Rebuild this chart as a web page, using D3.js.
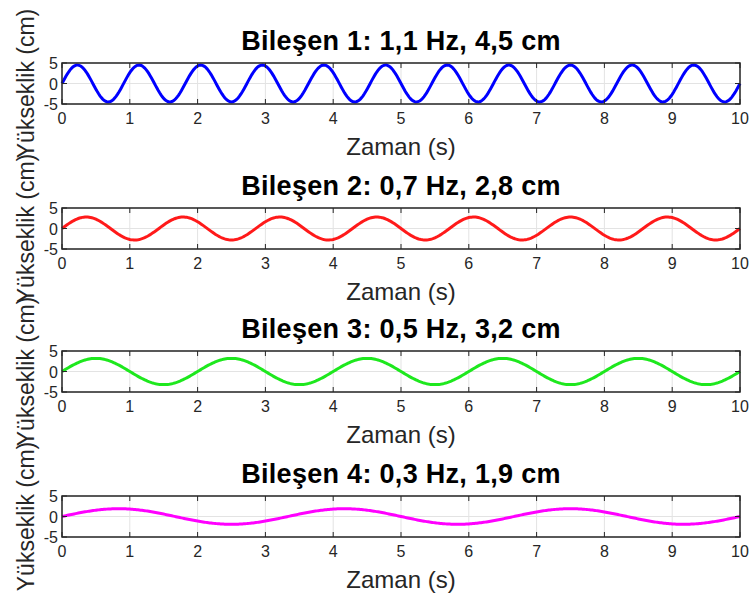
<!DOCTYPE html>
<html>
<head>
<meta charset="utf-8">
<script src="https://cdn.jsdelivr.net/npm/d3@7"></script>
<style>
  body { margin: 0; background: #fff; }
  text { font-family: "Liberation Sans", Arial, sans-serif; }
</style>
</head>
<body>
<div id="canvas"></div>
<script>
"use strict"

/* Data: the four components (frequency in Hz, amplitude in cm) */
let components = ["Bileşen 1", "Bileşen 2", "Bileşen 3", "Bileşen 4"];
let frequencies = [1.1, 0.7, 0.5, 0.3];
let amplitudes = [4.5, 2.8, 3.2, 1.9];
let colors = ["#0000ff", "#ff1a1a", "#1ee81e", "#ff00ff"];
let xTicks = [0, 1, 2, 3, 4, 5, 6, 7, 8, 9, 10];
let yTicks = [-5, 0, 5];

/* Drawing config */
let svgWidth = 749;
let svgHeight = 601;
let left = 62, right = 740;
let boxTops = [63, 208, 351, 496];
let boxHeight = 41;

let svg = d3.select("#canvas")
    .append("svg")
    .attr("width", svgWidth)
    .attr("height", svgHeight);

let xScale = d3.scaleLinear()
    .domain([0, 10])
    .range([left, right]);

/* format like MATLAB with comma decimal */
function fmt(v) {
    return String(v).replace(".", ",");
}

for (let i = 0; i < 4; i++) {
    let top = boxTops[i];
    let bottom = top + boxHeight;
    let yScale = d3.scaleLinear()
        .domain([-5, 5])
        .range([bottom, top]);

    let g = svg.append("g");

    /* grid */
    g.selectAll(".vgrid")
        .data(xTicks)
        .join("line")
        .attr("x1", d => xScale(d))
        .attr("x2", d => xScale(d))
        .attr("y1", top)
        .attr("y2", bottom)
        .attr("stroke", "#e3e3e3")
        .attr("stroke-width", 1);
    g.selectAll(".hgrid")
        .data(yTicks)
        .join("line")
        .attr("x1", left)
        .attr("x2", right)
        .attr("y1", d => yScale(d))
        .attr("y2", d => yScale(d))
        .attr("stroke", "#e3e3e3")
        .attr("stroke-width", 1);

    /* sampled sine wave from frequency and amplitude */
    let samples = d3.range(0, 10.0001, 0.02).map(t => ({
        t: t,
        y: amplitudes[i] * Math.sin(2 * Math.PI * frequencies[i] * t)
    }));

    let line = d3.line()
        .x(d => xScale(d.t))
        .y(d => yScale(d.y));

    g.append("path")
        .datum(samples)
        .attr("d", line)
        .attr("fill", "none")
        .attr("stroke", colors[i])
        .attr("stroke-width", 3);

    /* inward ticks */
    let tickLen = 5;
    xTicks.forEach(function (v) {
        g.append("line")
            .attr("x1", xScale(v)).attr("x2", xScale(v))
            .attr("y1", bottom).attr("y2", bottom - tickLen)
            .attr("stroke", "#262626");
        g.append("line")
            .attr("x1", xScale(v)).attr("x2", xScale(v))
            .attr("y1", top).attr("y2", top + tickLen)
            .attr("stroke", "#262626");
    });
    yTicks.forEach(function (v) {
        g.append("line")
            .attr("x1", left).attr("x2", left + tickLen)
            .attr("y1", yScale(v)).attr("y2", yScale(v))
            .attr("stroke", "#262626");
        g.append("line")
            .attr("x1", right).attr("x2", right - tickLen)
            .attr("y1", yScale(v)).attr("y2", yScale(v))
            .attr("stroke", "#262626");
    });

    /* box */
    g.append("rect")
        .attr("x", left)
        .attr("y", top)
        .attr("width", right - left)
        .attr("height", boxHeight)
        .attr("fill", "none")
        .attr("stroke", "#262626")
        .attr("stroke-width", 1.5);

    /* tick labels */
    g.selectAll(".xlab")
        .data(xTicks)
        .join("text")
        .attr("x", d => xScale(d))
        .attr("y", bottom + 20)
        .attr("text-anchor", "middle")
        .attr("font-size", 16)
        .attr("fill", "#262626")
        .text(d => d);
    g.selectAll(".ylab")
        .data(yTicks)
        .join("text")
        .attr("x", left - 4)
        .attr("y", d => yScale(d) + 6)
        .attr("text-anchor", "end")
        .attr("font-size", 16)
        .attr("fill", "#262626")
        .text(d => d);

    /* title */
    g.append("text")
        .attr("x", (left + right) / 2)
        .attr("y", top - 13)
        .attr("text-anchor", "middle")
        .attr("font-size", 27)
        .attr("font-weight", "bold")
        .attr("letter-spacing", 0.3)
        .attr("fill", "#000")
        .text(components[i] + ": " + fmt(frequencies[i]) + " Hz, " + fmt(amplitudes[i]) + " cm");

    /* x axis label */
    g.append("text")
        .attr("x", (left + right) / 2)
        .attr("y", bottom + 51)
        .attr("text-anchor", "middle")
        .attr("font-size", 24)
        .attr("fill", "#262626")
        .text("Zaman (s)");

    /* y axis label */
    g.append("text")
        .attr("transform", "translate(34," + (top + boxHeight / 2) + ") rotate(-90)")
        .attr("text-anchor", "middle")
        .attr("font-size", 23)
        .attr("fill", "#262626")
        .text("Yükseklik (cm)");
}
</script>
</body>
</html>
